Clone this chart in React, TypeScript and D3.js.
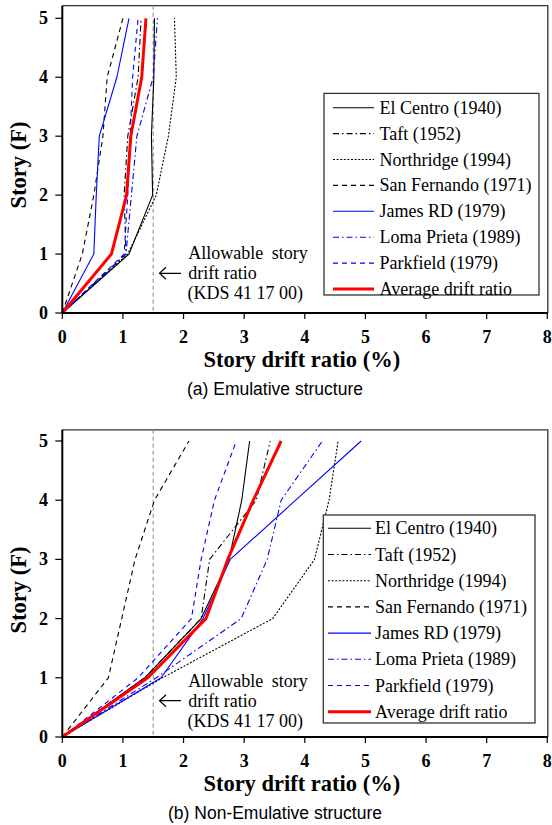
import React from 'react';
import * as d3 from 'd3';

const stories = [0, 1, 2, 3, 4, 5];
const xTicks = [0, 1, 2, 3, 4, 5, 6, 7, 8];
const yTicks = [0, 1, 2, 3, 4, 5];
const seriesNames = [
  'El Centro (1940)',
  'Taft (1952)',
  'Northridge (1994)',
  'San Fernando (1971)',
  'James RD (1979)',
  'Loma Prieta (1989)',
  'Parkfield (1979)',
  'Average drift ratio',
];

// (a) Emulative structure — drift ratio (%) at stories 0..5
const emuElCentro = [0, 1.1, 1.49, 1.47, 1.51, 1.52];
const emuTaft = [0, 1.05, 1.02, 1.08, 1.25, 1.3];
const emuNorthridge = [0, 1.08, 1.55, 1.75, 1.88, 1.85];
const emuSanFernando = [0, 0.33, 0.52, 0.67, 0.74, 1.0];
const emuJamesRD = [0, 0.52, 0.56, 0.61, 0.9, 1.1];
const emuLomaPrieta = [0, 1.05, 1.14, 1.23, 1.5, 1.57];
const emuParkfield = [0, 1.02, 1.08, 1.12, 1.16, 1.25];
const emuAverage = [0, 0.81, 1.06, 1.13, 1.31, 1.38];

// (b) Non-Emulative structure
const nonElCentro = [0, 1.36, 2.29, 2.75, 2.96, 3.09];
const nonTaft = [0, 1.36, 2.29, 2.43, 3.2, 3.43];
const nonNorthridge = [0, 1.65, 3.47, 4.16, 4.4, 4.55];
const nonSanFernando = [0, 0.76, 0.98, 1.2, 1.52, 2.09];
const nonJamesRD = [0, 1.63, 2.32, 2.77, 3.85, 4.93];
const nonLomaPrieta = [0, 1.55, 2.95, 3.38, 3.61, 4.29];
const nonParkfield = [0, 1.25, 2.13, 2.29, 2.51, 2.87];
const nonAverage = [0, 1.41, 2.37, 2.73, 3.15, 3.61];

const allowableDrift = 1.5;

const emuSeries = [emuElCentro, emuTaft, emuNorthridge, emuSanFernando, emuJamesRD, emuLomaPrieta, emuParkfield, emuAverage];
const nonSeries = [nonElCentro, nonTaft, nonNorthridge, nonSanFernando, nonJamesRD, nonLomaPrieta, nonParkfield, nonAverage];

const lineStyles = [
  { color: '#000000', dash: '', w: 1.1 },
  { color: '#000000', dash: '6,3,1.5,3', w: 1.1 },
  { color: '#000000', dash: '2,1.6', w: 1.1 },
  { color: '#000000', dash: '5,4', w: 1.1 },
  { color: '#0000ff', dash: '', w: 1.1 },
  { color: '#0000ff', dash: '6,3,1.5,3', w: 1.1 },
  { color: '#0000ff', dash: '5,4', w: 1.1 },
  { color: '#ff0000', dash: '', w: 3 },
];

const SERIF = '"Liberation Serif", "Times New Roman", serif';
const SANS = '"Liberation Sans", Arial, sans-serif';

type PanelProps = {
  series: number[][];
  frameTop: number;
  y0: number;
  y5: number;
  legend: { x: number; y: number; w: number; h: number; row0: number; dy: number; lx0: number; lx1: number; tx: number };
  noteY: number;
  caption: string;
  yTitleY: number;
};

const left = 62.3;
const right = 547.3;

function Panel(p: PanelProps) {
  const x = d3.scaleLinear().domain([0, 8]).range([left, right]);
  const y = d3.scaleLinear().domain([0, 5]).range([p.y0, p.y5]);
  const line = d3
    .line<number>()
    .x((d) => x(d))
    .y((_, i) => y(stories[i]));
  const L = p.legend;
  return (
    <g>
      {/* frame top/right */}
      <path d={`M${left},${p.frameTop}H${right + 0.5}V${p.y0}`} fill="none" stroke="#333" strokeWidth={1.3} />
      {/* allowable line */}
      <line x1={x(allowableDrift)} x2={x(allowableDrift)} y1={p.frameTop} y2={p.y0} stroke="#999" strokeWidth={1.2} strokeDasharray="4,3" />
      {/* series */}
      {p.series.map((s, i) => (
        <path
          key={i}
          d={line(s) || ''}
          fill="none"
          stroke={lineStyles[i].color}
          strokeWidth={lineStyles[i].w}
          strokeDasharray={lineStyles[i].dash || undefined}
          strokeLinejoin="round"
        />
      ))}
      {/* axes */}
      <line x1={left} x2={left} y1={p.frameTop} y2={p.y0} stroke="#000" strokeWidth={2} />
      <line x1={left} x2={right + 0.5} y1={p.y0} y2={p.y0} stroke="#000" strokeWidth={2} />
      {yTicks.map((t) => (
        <g key={'y' + t}>
          <line x1={left - 7} x2={left} y1={y(t)} y2={y(t)} stroke="#000" strokeWidth={1.2} />
          <text x={43.5} y={y(t) + 6} textAnchor="middle" fontFamily={SERIF} fontWeight="bold" fontSize={18}>
            {t}
          </text>
        </g>
      ))}
      {xTicks.map((t) => (
        <g key={'x' + t}>
          <line x1={x(t)} x2={x(t)} y1={p.y0} y2={p.y0 + 6} stroke="#000" strokeWidth={1.2} />
          <text x={x(t)} y={p.y0 + 30} textAnchor="middle" fontFamily={SERIF} fontWeight="bold" fontSize={18}>
            {t}
          </text>
        </g>
      ))}
      <text x={(left + right) / 2 - 3} y={p.y0 + 54} textAnchor="middle" fontFamily={SERIF} fontWeight="bold" fontSize={22.5}>
        Story drift ratio (%)
      </text>
      <text
        transform={`translate(26,${p.yTitleY}) rotate(-90)`}
        textAnchor="middle"
        fontFamily={SERIF}
        fontWeight="bold"
        fontSize={22.5}
      >
        Story (F)
      </text>
      <text x={275} y={p.y0 + 82} textAnchor="middle" fontFamily={SANS} fontSize={17.5}>
        {p.caption}
      </text>
      {/* allowable note */}
      <g fontFamily={SERIF} fontSize={18}>
        <text x={188.3} y={p.noteY - 20 + 6} wordSpacing={4}>Allowable story</text>
        <text x={188.3} y={p.noteY + 6}>drift ratio</text>
        <text x={187.5} y={p.noteY + 20 + 6}>(KDS 41 17 00)</text>
      </g>
      <path d={`M181,${p.noteY}H159.5M166,${p.noteY - 6}L159.5,${p.noteY}L166,${p.noteY + 6}`} fill="none" stroke="#000" strokeWidth={1.2} />
      {/* legend */}
      <rect x={L.x} y={L.y} width={L.w} height={L.h} fill="#fff" stroke="#333" strokeWidth={1.3} />
      {seriesNames.map((n, i) => (
        <g key={n}>
          <line
            x1={L.lx0}
            x2={L.lx1}
            y1={L.row0 + i * L.dy}
            y2={L.row0 + i * L.dy}
            stroke={lineStyles[i].color}
            strokeWidth={lineStyles[i].w}
            strokeDasharray={lineStyles[i].dash || undefined}
          />
          <text x={L.tx} y={L.row0 + i * L.dy + 6} fontFamily={SERIF} fontSize={18}>
            {n}
          </text>
        </g>
      ))}
    </g>
  );
}

export default function App() {
  return (
    <svg width={552} height={825} style={{ position: 'absolute', left: 0, top: 0, background: '#fff' }}>
      <rect width={552} height={825} fill="#fff" />
      <Panel
        series={emuSeries}
        frameTop={5.7}
        y0={313}
        y5={18.3}
        legend={{ x: 324, y: 93.4, w: 215, h: 201.6, row0: 107.7, dy: 25.9, lx0: 333, lx1: 374, tx: 379.5 }}
        noteY={273.3}
        caption="(a) Emulative structure"
        yTitleY={165}
      />
      <Panel
        series={nonSeries}
        frameTop={429.8}
        y0={737}
        y5={441}
        legend={{ x: 323.3, y: 515, w: 211.7, h: 208, row0: 528.3, dy: 26.2, lx0: 328, lx1: 371, tx: 375 }}
        noteY={700.7}
        caption="(b) Non-Emulative structure"
        yTitleY={590}
      />
    </svg>
  );
}
